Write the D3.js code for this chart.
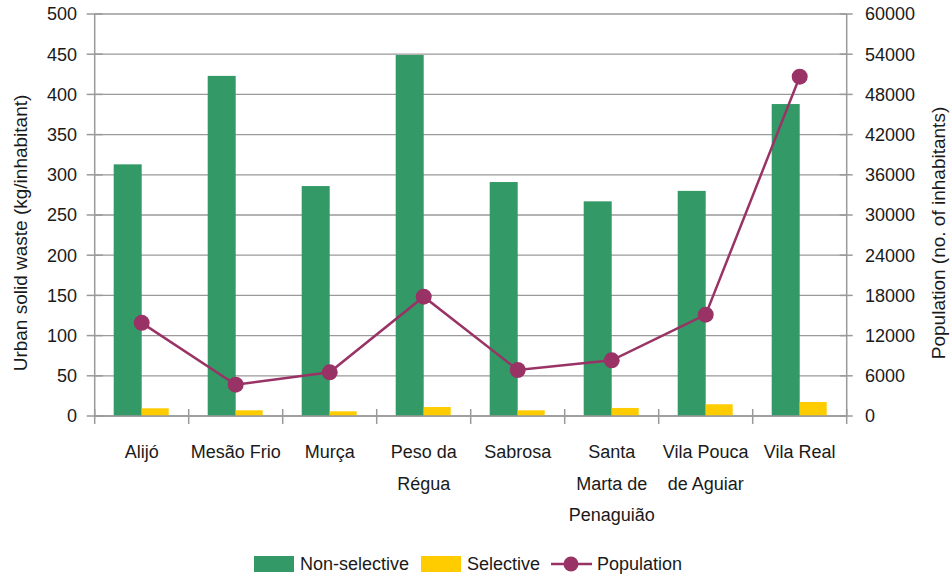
<!DOCTYPE html>
<html>
<head>
<meta charset="utf-8">
<script src="https://cdn.jsdelivr.net/npm/d3@7/dist/d3.min.js"></script>
<style>
  html, body { margin: 0; padding: 0; background: #fff; }
  svg { display: block; font-family: "Liberation Sans", Arial, sans-serif; }
</style>
</head>
<body>
<svg id="chart" width="951" height="579"></svg>
<script>
// ---- data ----
const categories = ["Alijó", "Mesão Frio", "Murça", "Peso da Régua", "Sabrosa", "Santa Marta de Penaguião", "Vila Pouca de Aguiar", "Vila Real"];
const categoryLines = [["Alijó"], ["Mesão Frio"], ["Murça"], ["Peso da", "Régua"], ["Sabrosa"], ["Santa", "Marta de", "Penaguião"], ["Vila Pouca", "de Aguiar"], ["Vila Real"]];
const nonSelective = [313, 423, 286, 449, 291, 267, 280, 388];
const selective = [9.6, 7.1, 5.8, 11.2, 7.1, 10, 14.6, 17.4];
const population = [13900, 4670, 6520, 17810, 6870, 8310, 15120, 50640];
const leftTicks = [0, 50, 100, 150, 200, 250, 300, 350, 400, 450, 500];
const rightTicks = [0, 6000, 12000, 18000, 24000, 30000, 36000, 42000, 48000, 54000, 60000];
const seriesNames = ["Non-selective", "Selective", "Population"];
const colors = { nonSel: "#339966", sel: "#FFCC00", pop: "#993366" };

// ---- layout ----
const L = 94.7, R = 846.7, T = 14, B = 416;
const svg = d3.select("#chart");
const gridColor = "#9a9a9a";
const textColor = "#1a1a1a";

const x = d3.scaleBand().domain(categories).range([L, R]).paddingInner(0).paddingOuter(0);
const yL = d3.scaleLinear().domain([0, 500]).range([B, T]);
const yR = d3.scaleLinear().domain([0, 60000]).range([B, T]);
const barW = 28;

// gridlines
svg.append("g").selectAll("line").data(leftTicks).join("line")
  .attr("x1", L).attr("x2", R)
  .attr("y1", d => yL(d)).attr("y2", d => yL(d))
  .attr("stroke", gridColor).attr("stroke-width", 1.3);

// bars
const groups = svg.append("g").selectAll("g").data(categories).join("g");
groups.append("rect")
  .attr("x", (d) => x(d) + x.bandwidth() / 2 - barW)
  .attr("width", barW)
  .attr("y", (d, i) => yL(nonSelective[i]))
  .attr("height", (d, i) => B - yL(nonSelective[i]))
  .attr("fill", colors.nonSel);
groups.append("rect")
  .attr("x", (d) => x(d) + x.bandwidth() / 2)
  .attr("width", barW - 1)
  .attr("y", (d, i) => yL(selective[i]))
  .attr("height", (d, i) => B - yL(selective[i]))
  .attr("fill", colors.sel);

// axes lines
const axisG = svg.append("g").attr("stroke", gridColor).attr("stroke-width", 1.5);
axisG.append("line").attr("x1", L).attr("x2", L).attr("y1", T).attr("y2", B);
axisG.append("line").attr("x1", R).attr("x2", R).attr("y1", T).attr("y2", B);
axisG.append("line").attr("x1", L).attr("x2", R).attr("y1", B).attr("y2", B);
// left ticks
axisG.selectAll(".lt").data(leftTicks).join("line")
  .attr("x1", L - 8).attr("x2", L + 8)
  .attr("y1", d => yL(d)).attr("y2", d => yL(d));
// right ticks
axisG.selectAll(".rt").data(rightTicks).join("line")
  .attr("x1", R - 7).attr("x2", R + 6)
  .attr("y1", d => yR(d)).attr("y2", d => yR(d));
// bottom ticks at band boundaries
const bounds = categories.map(c => x(c)).concat([R]);
axisG.selectAll(".bt").data(bounds).join("line")
  .attr("x1", d => d).attr("x2", d => d)
  .attr("y1", B - 7).attr("y2", B + 8);

// left tick labels
svg.append("g").selectAll("text").data(leftTicks).join("text")
  .attr("x", 77).attr("y", d => yL(d)).attr("dy", "0.35em")
  .attr("text-anchor", "end").attr("font-size", 18).attr("fill", textColor)
  .text(d => d);
// right tick labels
svg.append("g").selectAll("text").data(rightTicks).join("text")
  .attr("x", 865).attr("y", d => yR(d)).attr("dy", "0.35em")
  .attr("text-anchor", "start").attr("font-size", 18).attr("fill", textColor)
  .text(d => d);

// category labels
const xl = svg.append("g").selectAll("text").data(categories).join("text")
  .attr("text-anchor", "middle").attr("font-size", 18).attr("fill", textColor)
  .attr("transform", d => `translate(${x(d) + x.bandwidth() / 2},452)`);
xl.each(function(d, i) {
  d3.select(this).selectAll("tspan").data(categoryLines[i]).join("tspan")
    .attr("x", 0).attr("y", (t, j) => j * 31.5).attr("dy", "0.35em").text(t => t);
});

// axis titles
svg.append("text")
  .attr("transform", "translate(20,233) rotate(-90)")
  .attr("text-anchor", "middle").attr("dy", "0.35em")
  .attr("font-size", 19).attr("fill", textColor)
  .text("Urban solid waste (kg/inhabitant)");
svg.append("text")
  .attr("transform", "translate(938,233) rotate(-90)")
  .attr("text-anchor", "middle").attr("dy", "0.35em")
  .attr("font-size", 19).attr("fill", textColor)
  .text("Population (no. of inhabitants)");

// population line
const line = d3.line()
  .x((d, i) => x(categories[i]) + x.bandwidth() / 2)
  .y(d => yR(d));
svg.append("path").datum(population)
  .attr("d", line).attr("fill", "none")
  .attr("stroke", colors.pop).attr("stroke-width", 2.5);
svg.append("g").selectAll("circle").data(population).join("circle")
  .attr("cx", (d, i) => x(categories[i]) + x.bandwidth() / 2)
  .attr("cy", d => yR(d)).attr("r", 8).attr("fill", colors.pop);

// legend
const lg = svg.append("g");
const ly = 564;
lg.append("rect").attr("x", 254).attr("y", ly - 8).attr("width", 40).attr("height", 16).attr("fill", colors.nonSel);
lg.append("text").attr("x", 300).attr("y", ly).attr("dy", "0.35em").attr("font-size", 18).attr("fill", textColor).text(seriesNames[0]);
lg.append("rect").attr("x", 421).attr("y", ly - 8).attr("width", 40).attr("height", 16).attr("fill", colors.sel);
lg.append("text").attr("x", 467).attr("y", ly).attr("dy", "0.35em").attr("font-size", 18).attr("fill", textColor).text(seriesNames[1]);
lg.append("line").attr("x1", 551).attr("x2", 592).attr("y1", ly).attr("y2", ly).attr("stroke", colors.pop).attr("stroke-width", 2.5);
lg.append("circle").attr("cx", 571).attr("cy", ly).attr("r", 7.5).attr("fill", colors.pop);
lg.append("text").attr("x", 597).attr("y", ly).attr("dy", "0.35em").attr("font-size", 18).attr("fill", textColor).text(seriesNames[2]);
</script>
</body>
</html>
